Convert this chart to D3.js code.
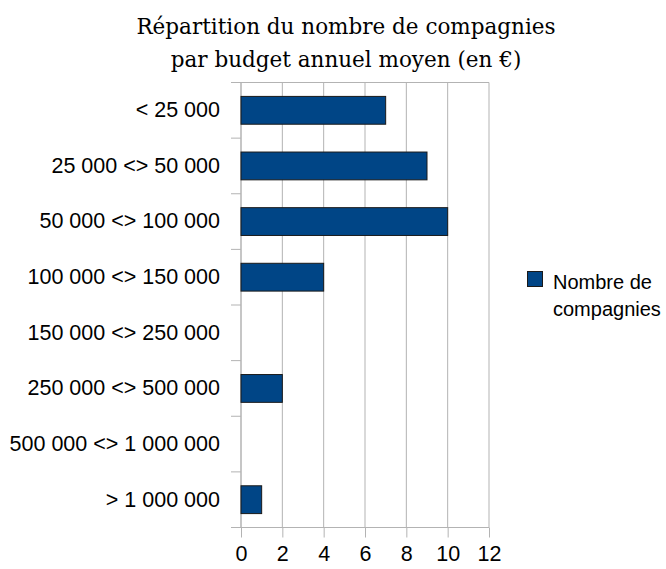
<!DOCTYPE html>
<html>
<head>
<meta charset="utf-8">
<script src="https://d3js.org/d3.v7.min.js"></script>
<style>
  body { margin: 0; background: #fff; }
  .axis text { font-family: "Liberation Sans", Arial, sans-serif; font-size: 21.5px; fill: #000; }
  .axis path { display: none; }
  .axis line { stroke: #b3b3b3; }
  .title { font-family: "DejaVu Serif", serif; font-size: 21.5px; text-anchor: middle; fill: #000; }
  .legend text { font-family: "Liberation Sans", Arial, sans-serif; font-size: 20px; fill: #000; }
</style>
</head>
<body>
<svg id="chart" width="666" height="569"></svg>
<script>
// categories (top to bottom) and values
const categories = [
  "< 25 000",
  "25 000 <> 50 000",
  "50 000 <> 100 000",
  "100 000 <> 150 000",
  "150 000 <> 250 000",
  "250 000 <> 500 000",
  "500 000 <> 1 000 000",
  "> 1 000 000"
];
const values = [7, 9, 10, 4, 0, 2, 0, 1];
const xTicks = [0, 2, 4, 6, 8, 10, 12];
const titleLines = ["Répartition du nombre de compagnies", "par budget annuel moyen (en €)"];
const seriesName = ["Nombre de", "compagnies"];

const plot = { left: 241, right: 489, top: 82.5, bottom: 527.5 };
const barColor = "#004586";

const svg = d3.select("#chart");

const x = d3.scaleLinear().domain([0, 12]).range([plot.left, plot.right]);
const y = d3.scaleBand()
  .domain(categories)
  .range([plot.top, plot.bottom])
  .paddingInner(0.5)
  .paddingOuter(0.25);

// vertical grid lines
svg.append("g")
  .selectAll("line")
  .data(xTicks)
  .join("line")
  .attr("x1", d => x(d)).attr("x2", d => x(d))
  .attr("y1", plot.top).attr("y2", plot.bottom)
  .attr("stroke", "#b3b3b3");

// category separators (y ticks), first and last run across as borders
const step = y.step();
svg.append("g")
  .selectAll("line")
  .data(d3.range(categories.length + 1))
  .join("line")
  .attr("x1", plot.left - 10)
  .attr("x2", i => (i === 0 || i === categories.length) ? plot.right : plot.left)
  .attr("y1", i => plot.top + i * step).attr("y2", i => plot.top + i * step)
  .attr("stroke", "#b3b3b3");

// bottom axis
svg.append("g")
  .attr("class", "axis")
  .attr("transform", `translate(0,${plot.bottom})`)
  .call(d3.axisBottom(x).tickValues(xTicks).tickSize(10).tickPadding(8.5).tickFormat(d3.format("d")));

// left axis labels
svg.append("g")
  .attr("class", "axis")
  .attr("transform", `translate(${plot.left},0)`)
  .call(d3.axisLeft(y).tickSize(0).tickPadding(21));

// left axis line
svg.append("line")
  .attr("x1", plot.left).attr("x2", plot.left)
  .attr("y1", plot.top).attr("y2", plot.bottom)
  .attr("stroke", "#b3b3b3");

// bars
svg.append("g")
  .selectAll("rect")
  .data(values)
  .join("rect")
  .attr("x", x(0))
  .attr("y", (d, i) => y(categories[i]))
  .attr("width", d => x(d) - x(0))
  .attr("height", y.bandwidth())
  .attr("fill", barColor)
  .attr("stroke", d => d > 0 ? "#1a1a1a" : "none")
  .attr("stroke-width", 1);

// title
svg.append("text")
  .attr("class", "title")
  .attr("x", 346)
  .attr("y", 33.5)
  .selectAll("tspan")
  .data(titleLines)
  .join("tspan")
  .attr("x", 346)
  .attr("dy", (d, i) => i === 0 ? 0 : 33)
  .text(d => d);

// legend
const legend = svg.append("g").attr("class", "legend");
legend.append("rect")
  .attr("x", 527.5).attr("y", 271.5)
  .attr("width", 15).attr("height", 15)
  .attr("fill", barColor)
  .attr("stroke", "#1a1a1a");
legend.append("text")
  .attr("x", 553)
  .attr("y", 288.5)
  .selectAll("tspan")
  .data(seriesName)
  .join("tspan")
  .attr("x", 553)
  .attr("dy", (d, i) => i === 0 ? 0 : 27)
  .text(d => d);
</script>
</body>
</html>
